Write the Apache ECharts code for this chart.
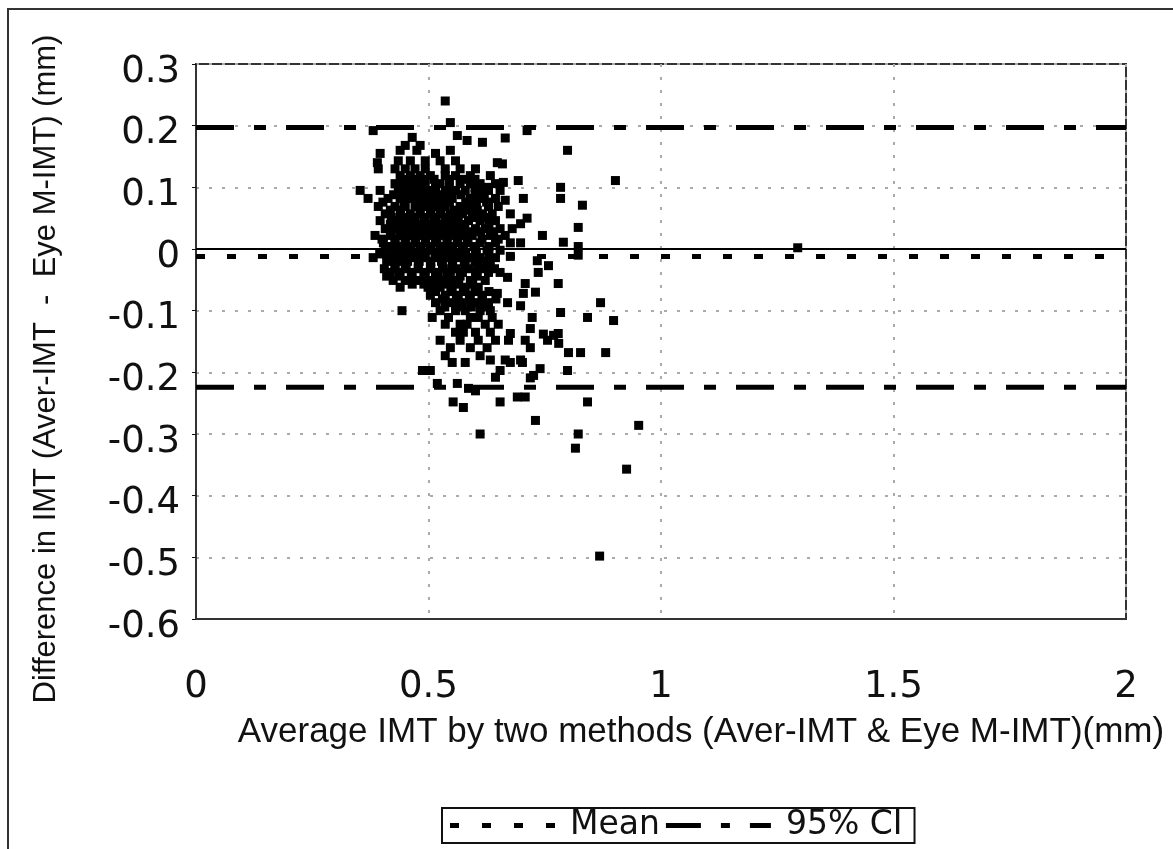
<!DOCTYPE html>
<html>
<head>
<meta charset="utf-8">
<title>Bland-Altman IMT</title>
<script src="https://cdn.jsdelivr.net/npm/echarts@6/dist/echarts.min.js"></script>
<style>
  html, body { margin: 0; padding: 0; background: #fff; }
  #chart { width: 1173px; height: 849px; }
</style>
</head>
<body>
<div id="chart"></div>
<script>
// x ticks / y ticks
var xTicks = [0, 0.5, 1, 1.5, 2];
var yTicks = [-0.6, -0.5, -0.4, -0.3, -0.2, -0.1, 0, 0.1, 0.2, 0.3];

// reference lines
var meanDiff = -0.012;
var ciUpper = 0.197;
var ciLower = -0.224;

// [average IMT, difference]
var pointsUpper = [
  [0.536, 0.240], [0.547, 0.205], [0.381, 0.192], [0.465, 0.181], [0.562, 0.184],
  [0.583, 0.176], [0.616, 0.173], [0.712, 0.192], [0.665, 0.180], [0.396, 0.155],
  [0.439, 0.160], [0.475, 0.160], [0.547, 0.160], [0.390, 0.140], [0.515, 0.155],
  [0.648, 0.140], [0.799, 0.160], [0.659, 0.138], [0.450, 0.168], [0.482, 0.168],
  [0.435, 0.143], [0.461, 0.143], [0.493, 0.143], [0.525, 0.143], [0.558, 0.143],
  [0.392, 0.130], [0.428, 0.130], [0.450, 0.130], [0.471, 0.130], [0.493, 0.130],
  [0.536, 0.130], [0.568, 0.130], [0.601, 0.130],
  [0.439, 0.119], [0.461, 0.119], [0.482, 0.119], [0.504, 0.119], [0.536, 0.119],
  [0.558, 0.119], [0.590, 0.119], [0.633, 0.119],
  [0.428, 0.106], [0.450, 0.106], [0.471, 0.106], [0.493, 0.106], [0.525, 0.106],
  [0.568, 0.106], [0.590, 0.106], [0.611, 0.106], [0.644, 0.106],
  [0.353, 0.095], [0.396, 0.095], [0.435, 0.095], [0.456, 0.095], [0.478, 0.095],
  [0.504, 0.095], [0.536, 0.095], [0.558, 0.095], [0.579, 0.095], [0.607, 0.095],
  [0.629, 0.095], [0.654, 0.095],
  [0.370, 0.082], [0.413, 0.082], [0.439, 0.082], [0.461, 0.082], [0.487, 0.082],
  [0.508, 0.082], [0.530, 0.082], [0.551, 0.082], [0.590, 0.082], [0.611, 0.082],
  [0.644, 0.082], [0.665, 0.079], [0.704, 0.082],
  [0.392, 0.069], [0.428, 0.069], [0.450, 0.069], [0.471, 0.069], [0.493, 0.069],
  [0.515, 0.069], [0.536, 0.069], [0.568, 0.069], [0.590, 0.069], [0.629, 0.069],
  [0.650, 0.069],
  [0.407, 0.057], [0.439, 0.057], [0.461, 0.057], [0.482, 0.057], [0.504, 0.057],
  [0.525, 0.057], [0.547, 0.057], [0.573, 0.057], [0.594, 0.057], [0.616, 0.057],
  [0.637, 0.057], [0.676, 0.057],
  [0.396, 0.046], [0.428, 0.046], [0.450, 0.046], [0.471, 0.046], [0.493, 0.046],
  [0.515, 0.046], [0.543, 0.046], [0.564, 0.046], [0.586, 0.046], [0.611, 0.046],
  [0.644, 0.046], [0.698, 0.041], [0.712, 0.050],
  [0.407, 0.033], [0.435, 0.033], [0.456, 0.033], [0.478, 0.033], [0.499, 0.033],
  [0.521, 0.033], [0.547, 0.033], [0.568, 0.033], [0.601, 0.033], [0.622, 0.033],
  [0.654, 0.033], [0.680, 0.033],
  [0.385, 0.022], [0.418, 0.022], [0.439, 0.022], [0.461, 0.022], [0.482, 0.022],
  [0.504, 0.022], [0.530, 0.022], [0.551, 0.022], [0.573, 0.022], [0.594, 0.022],
  [0.633, 0.022], [0.665, 0.022], [0.745, 0.022],
  [0.403, 0.010], [0.428, 0.010], [0.450, 0.010], [0.471, 0.010], [0.493, 0.010],
  [0.515, 0.010], [0.540, 0.010], [0.562, 0.010], [0.583, 0.010], [0.611, 0.010],
  [0.644, 0.010], [0.676, 0.010], [0.698, 0.010], [0.790, 0.011]
];

// dense core of the cloud, between the rows above
var pointsCore = [
  [0.445, 0.113], [0.467, 0.113], [0.489, 0.113], [0.512, 0.113], [0.545, 0.113],
  [0.575, 0.113], [0.600, 0.113],
  [0.440, 0.100], [0.462, 0.100], [0.485, 0.100], [0.515, 0.100], [0.545, 0.100],
  [0.600, 0.100], [0.625, 0.100],
  [0.425, 0.088], [0.447, 0.088], [0.470, 0.088], [0.495, 0.088], [0.520, 0.088],
  [0.541, 0.088], [0.570, 0.088], [0.600, 0.088], [0.620, 0.088],
  [0.402, 0.076], [0.448, 0.076], [0.475, 0.076], [0.500, 0.076], [0.522, 0.076],
  [0.545, 0.076], [0.580, 0.076], [0.603, 0.076], [0.625, 0.076],
  [0.418, 0.063], [0.440, 0.063], [0.482, 0.063], [0.505, 0.063], [0.527, 0.063],
  [0.555, 0.063], [0.580, 0.063], [0.605, 0.063],
  [0.420, 0.051], [0.445, 0.051], [0.467, 0.051], [0.490, 0.051], [0.512, 0.051],
  [0.535, 0.051], [0.557, 0.051], [0.600, 0.051], [0.628, 0.051],
  [0.418, 0.040], [0.440, 0.040], [0.462, 0.040], [0.483, 0.040], [0.506, 0.040],
  [0.530, 0.040], [0.555, 0.040], [0.578, 0.040], [0.630, 0.040],
  [0.420, 0.028], [0.447, 0.028], [0.468, 0.028], [0.490, 0.028], [0.512, 0.028],
  [0.535, 0.028], [0.557, 0.028], [0.585, 0.028], [0.612, 0.028], [0.640, 0.028],
  [0.400, 0.016], [0.428, 0.016], [0.450, 0.016], [0.472, 0.016], [0.494, 0.016],
  [0.518, 0.016], [0.540, 0.016], [0.562, 0.016], [0.585, 0.016], [0.615, 0.016],
  [0.650, 0.016],
  [0.418, 0.004], [0.440, 0.004], [0.462, 0.004], [0.484, 0.004], [0.505, 0.004],
  [0.530, 0.004], [0.552, 0.004], [0.575, 0.004], [0.598, 0.004], [0.630, 0.004],
  [0.395, -0.008], [0.425, -0.008], [0.447, -0.008], [0.470, -0.008], [0.492, -0.008],
  [0.514, -0.008], [0.535, -0.008], [0.557, -0.008], [0.580, -0.008], [0.603, -0.008],
  [0.630, -0.008],
  [0.410, -0.020], [0.432, -0.020], [0.455, -0.020], [0.480, -0.020], [0.505, -0.020],
  [0.528, -0.020], [0.552, -0.020], [0.577, -0.020], [0.600, -0.020], [0.625, -0.020],
  [0.405, -0.032], [0.428, -0.032], [0.452, -0.032], [0.478, -0.032], [0.505, -0.032],
  [0.532, -0.032], [0.560, -0.032], [0.588, -0.032], [0.615, -0.032], [0.642, -0.032],
  [0.410, -0.044], [0.437, -0.044], [0.463, -0.044], [0.490, -0.044], [0.515, -0.044],
  [0.540, -0.044], [0.568, -0.044], [0.605, -0.044],
  [0.465, -0.057], [0.490, -0.057], [0.512, -0.057], [0.540, -0.057], [0.565, -0.057],
  [0.595, -0.057],
  [0.515, -0.069], [0.548, -0.069], [0.575, -0.069], [0.600, -0.069], [0.630, -0.069],
  [0.530, -0.081], [0.560, -0.081], [0.588, -0.081], [0.615, -0.081], [0.645, -0.081],
  [0.535, -0.094], [0.565, -0.094], [0.592, -0.094], [0.620, -0.094]
];

var pointsLower = [
  [0.407, -0.002], [0.435, -0.002], [0.456, -0.002], [0.482, -0.002], [0.504, -0.002],
  [0.525, -0.002], [0.547, -0.002], [0.573, -0.002], [0.601, -0.002], [0.626, -0.002],
  [0.654, -0.002], [0.822, 0.004],
  [0.381, -0.014], [0.422, -0.014], [0.443, -0.014], [0.465, -0.014], [0.493, -0.014],
  [0.519, -0.014], [0.540, -0.014], [0.564, -0.014], [0.590, -0.014], [0.611, -0.014],
  [0.644, -0.014], [0.676, -0.012], [0.734, -0.019], [0.822, -0.010],
  [0.428, -0.027], [0.450, -0.027], [0.478, -0.027], [0.504, -0.027], [0.530, -0.027],
  [0.551, -0.027], [0.579, -0.027], [0.607, -0.027], [0.633, -0.027], [0.758, -0.027],
  [0.418, -0.038], [0.439, -0.038], [0.465, -0.038], [0.493, -0.038], [0.521, -0.038],
  [0.547, -0.038], [0.573, -0.038], [0.601, -0.038], [0.629, -0.038], [0.654, -0.038],
  [0.736, -0.038],
  [0.424, -0.051], [0.450, -0.051], [0.478, -0.051], [0.504, -0.051], [0.530, -0.051],
  [0.558, -0.051], [0.590, -0.051], [0.622, -0.051], [0.670, -0.046],
  [0.439, -0.062], [0.499, -0.062], [0.525, -0.062], [0.551, -0.062], [0.579, -0.062],
  [0.607, -0.062], [0.708, -0.056], [0.779, -0.056],
  [0.504, -0.075], [0.536, -0.075], [0.564, -0.075], [0.590, -0.075], [0.616, -0.075],
  [0.648, -0.072], [0.704, -0.072], [0.730, -0.070],
  [0.515, -0.087], [0.547, -0.087], [0.573, -0.087], [0.601, -0.087], [0.629, -0.087],
  [0.670, -0.087], [0.870, -0.087],
  [0.443, -0.100], [0.525, -0.100], [0.558, -0.100], [0.579, -0.100], [0.611, -0.100],
  [0.633, -0.100], [0.698, -0.092], [0.784, -0.103],
  [0.508, -0.111], [0.543, -0.111], [0.590, -0.111], [0.607, -0.111], [0.637, -0.111],
  [0.723, -0.111], [0.842, -0.111],
  [0.536, -0.122], [0.568, -0.122], [0.583, -0.122], [0.622, -0.122], [0.650, -0.122],
  [0.898, -0.116],
  [0.558, -0.135], [0.575, -0.135], [0.601, -0.135], [0.633, -0.135], [0.676, -0.137],
  [0.719, -0.129], [0.747, -0.138], [0.769, -0.140],
  [0.525, -0.148], [0.568, -0.148], [0.607, -0.148], [0.644, -0.148], [0.672, -0.148],
  [0.708, -0.148], [0.756, -0.148], [0.780, -0.153],
  [0.547, -0.160], [0.590, -0.160], [0.626, -0.160], [0.719, -0.160], [0.779, -0.137],
  [0.536, -0.173], [0.611, -0.173], [0.665, -0.180], [0.698, -0.180], [0.801, -0.168],
  [0.827, -0.168], [0.881, -0.168],
  [0.551, -0.184], [0.579, -0.184], [0.633, -0.180], [0.676, -0.184], [0.702, -0.184],
  [0.487, -0.197], [0.504, -0.197], [0.654, -0.197], [0.740, -0.194], [0.726, -0.205],
  [0.799, -0.197],
  [0.644, -0.208], [0.719, -0.209],
  [0.519, -0.218], [0.562, -0.218], [0.586, -0.226], [0.601, -0.230],
  [0.691, -0.240], [0.708, -0.240], [0.553, -0.248], [0.654, -0.248], [0.842, -0.248],
  [0.575, -0.257]
];

var pointsOutlier = [
  [0.611, -0.300], [0.730, -0.278], [0.822, -0.300], [0.816, -0.323], [0.926, -0.357],
  [0.952, -0.286], [0.868, -0.498], [0.902, 0.111], [0.784, 0.100], [0.784, 0.082],
  [0.831, 0.071], [0.822, 0.035], [0.693, 0.111], [0.661, 0.108], [1.294, 0.002]
];

var allPoints = pointsUpper.concat(pointsCore, pointsLower, pointsOutlier);

var FONT = "Liberation Sans";
var TICK_FONT = "DejaVu Sans";

// legend icons drawn as dash patterns
var meanIcon = "path://M0,0h9v5h-9zM32,0h9v5h-9zM64,0h9v5h-9zM96,0h9v5h-9z";
var ciIcon = "path://M0,0h35v5h-35zM55,0h9v5h-9zM84,0h21v5h-21z";

var myChart = echarts.init(document.getElementById("chart"));

var option = {
  animation: false,
  backgroundColor: "#fff",
  grid: {
    left: 196,
    right: 47,
    top: 64,
    bottom: 230,
    show: true,
    borderColor: "#333",
    borderWidth: 2,
  },
  legend: {
    left: 442,
    top: 808,
    orient: "horizontal",
    backgroundColor: "#fff",
    borderColor: "#111",
    borderWidth: 2,
    padding: [1, 12, 1, 8],
    itemGap: 6,
    itemWidth: 105,
    itemHeight: 5,
    textStyle: {
      fontFamily: TICK_FONT,
      fontSize: 33,
      color: "#111",
      lineHeight: 33,
      padding: [0, 0, 0, 10],
    },
    data: [
      { name: "Mean", icon: meanIcon },
      { name: "95% CI", icon: ciIcon },
    ],
  },
  graphic: [
    {
      type: "rect",
      shape: { x: 8, y: 9, width: 1200, height: 900 },
      style: { fill: "none", stroke: "#333", lineWidth: 2 },
      silent: true,
    },
    {
      type: "text",
      x: 701,
      y: 732,
      style: {
        text: "Average IMT by two methods (Aver-IMT & Eye M-IMT)(mm)",
        font: "35px " + FONT,
        fill: "#111",
        textAlign: "center",
        textVerticalAlign: "middle",
      },
    },
    {
      type: "text",
      x: 46,
      y: 369,
      rotation: Math.PI / 2,
      style: {
        text: "Difference in IMT (Aver-IMT  -  Eye M-IMT) (mm)",
        font: "31px " + FONT,
        fill: "#111",
        textAlign: "center",
        textVerticalAlign: "middle",
      },
    },
  ],
  xAxis: {
    type: "value",
    min: xTicks[0],
    max: xTicks[xTicks.length - 1],
    interval: 0.5,
    axisLine: { onZero: false, lineStyle: { color: "#333", width: 2 } },
    axisTick: { show: false },
    splitLine: {
      show: true,
      lineStyle: { color: "#aaa", width: 2, type: [3, 10] },
    },
    axisLabel: {
      fontFamily: TICK_FONT,
      fontSize: 37,
      color: "#111",
      margin: 50,
    },
  },
  yAxis: {
    type: "value",
    min: yTicks[0],
    max: yTicks[yTicks.length - 1],
    interval: 0.1,
    axisLine: { show: true, onZero: false, lineStyle: { color: "#333", width: 2 } },
    axisTick: { show: true, length: 4, lineStyle: { color: "#111" } },
    splitLine: {
      show: true,
      lineStyle: { color: "#aaa", width: 2, type: [3, 10] },
    },
    axisLabel: {
      fontFamily: TICK_FONT,
      fontSize: 37,
      color: "#111",
      margin: 16,
      verticalAlign: "top",
      lineHeight: 16,
    },
  },
  series: [
    {
      name: "points",
      type: "scatter",
      symbol: "rect",
      symbolSize: 9,
      itemStyle: { color: "#000", opacity: 1 },
      data: allPoints,
      z: 2,
      // solid line at zero difference
      markLine: {
        silent: true,
        symbol: "none",
        label: { show: false },
        lineStyle: { color: "#000", width: 2, type: "solid" },
        data: [{ yAxis: 0 }],
      },
    },
    {
      name: "Mean",
      type: "line",
      symbol: "none",
      z: 3,
      lineStyle: { color: "#000", width: 5, type: [9, 22] },
      itemStyle: { color: "#000" },
      data: [[xTicks[0], meanDiff], [xTicks[xTicks.length - 1], meanDiff]],
    },
    {
      name: "95% CI",
      type: "line",
      symbol: "none",
      z: 3,
      lineStyle: { color: "#000", width: 5, type: [38, 20, 12, 20] },
      itemStyle: { color: "#000" },
      data: [[xTicks[0], ciUpper], [xTicks[xTicks.length - 1], ciUpper]],
    },
    {
      name: "95% CI",
      type: "line",
      symbol: "none",
      z: 3,
      lineStyle: { color: "#000", width: 5, type: [38, 20, 12, 20] },
      itemStyle: { color: "#000" },
      data: [[xTicks[0], ciLower], [xTicks[xTicks.length - 1], ciLower]],
    },
  ],
};

myChart.setOption(option);
window.addEventListener("resize", function () {
  myChart.resize();
});
</script>
</body>
</html>
